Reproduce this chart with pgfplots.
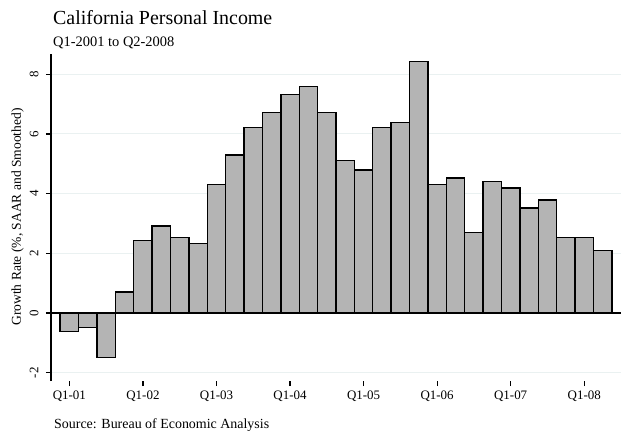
\documentclass[border=0pt]{standalone}
\usepackage{pgfplots}
\pgfplotsset{compat=1.18}
\usepackage{fontspec}
\setmainfont{Liberation Serif}
\definecolor{barfill}{RGB}{180,180,180}
\definecolor{gridc}{RGB}{234,241,241}
\begin{document}
\begin{tikzpicture}
\path[use as bounding box] (-51bp,-59bp) rectangle (570bp,381bp);
\begin{axis}[
    scale only axis,
    width=570bp, height=327bp,
    xmin=-1, xmax=30,
    ymin=-2.28, ymax=8.68,
    axis lines*=left,
    x axis line style={draw=none},
    y axis line style={line width=1.2bp},
    tick align=outside,
    major tick length=5bp,
    every tick/.style={black, line width=1.2bp},
    xtick={0,4,...,28},
    xticklabels={Q1-01,Q1-02,Q1-03,Q1-04,Q1-05,Q1-06,Q1-07,Q1-08},
    ytick={-2,0,2,4,6,8},
    ymajorgrids=true,
    major grid style={gridc, line width=1bp},
    extra y ticks={0},
    extra y tick labels={},
    extra y tick style={major grid style={black, line width=1.4bp}, major tick length=0pt},
    /pgf/number format/assume math mode=true,
    tick label style={font=\fontsize{13}{15}\selectfont},
    yticklabel style={rotate=90, anchor=south, yshift=4bp},
    xticklabel style={yshift=-1bp},
    clip=false,
]
\addplot[ybar, bar width=1, fill=barfill, draw=black, line width=1.4bp]
coordinates {
(0,-0.62) (1,-0.49) (2,-1.50) (3,0.70) (4,2.42) (5,2.92) (6,2.53) (7,2.32)
(8,4.30) (9,5.29) (10,6.22) (11,6.71) (12,7.33) (13,7.60) (14,6.72) (15,5.12)
(16,4.79) (17,6.22) (18,6.39) (19,8.42) (20,4.30) (21,4.53) (22,2.70) (23,4.40)
(24,4.19) (25,3.52) (26,3.79) (27,2.53) (28,2.53) (29,2.09)
};
\end{axis}
\node[anchor=base west, inner sep=0pt, font=\fontsize{20}{22}\selectfont] at (2bp,356bp) {California Personal Income};
\node[anchor=base west, inner sep=0pt, font=\fontsize{14.5}{16}\selectfont] at (2bp,334bp) {Q1-2001 to Q2-2008};
\node[anchor=base west, inner sep=0pt, font=\fontsize{14}{16}\selectfont] at (3bp,-47bp) {Source: Bureau of Economic Analysis};
\node[rotate=90, inner sep=0pt, font=\fontsize{13.6}{15}\selectfont] at (-33.5bp,164bp) {Growth Rate (\%, SAAR and Smoothed)};
\end{tikzpicture}
\end{document}
